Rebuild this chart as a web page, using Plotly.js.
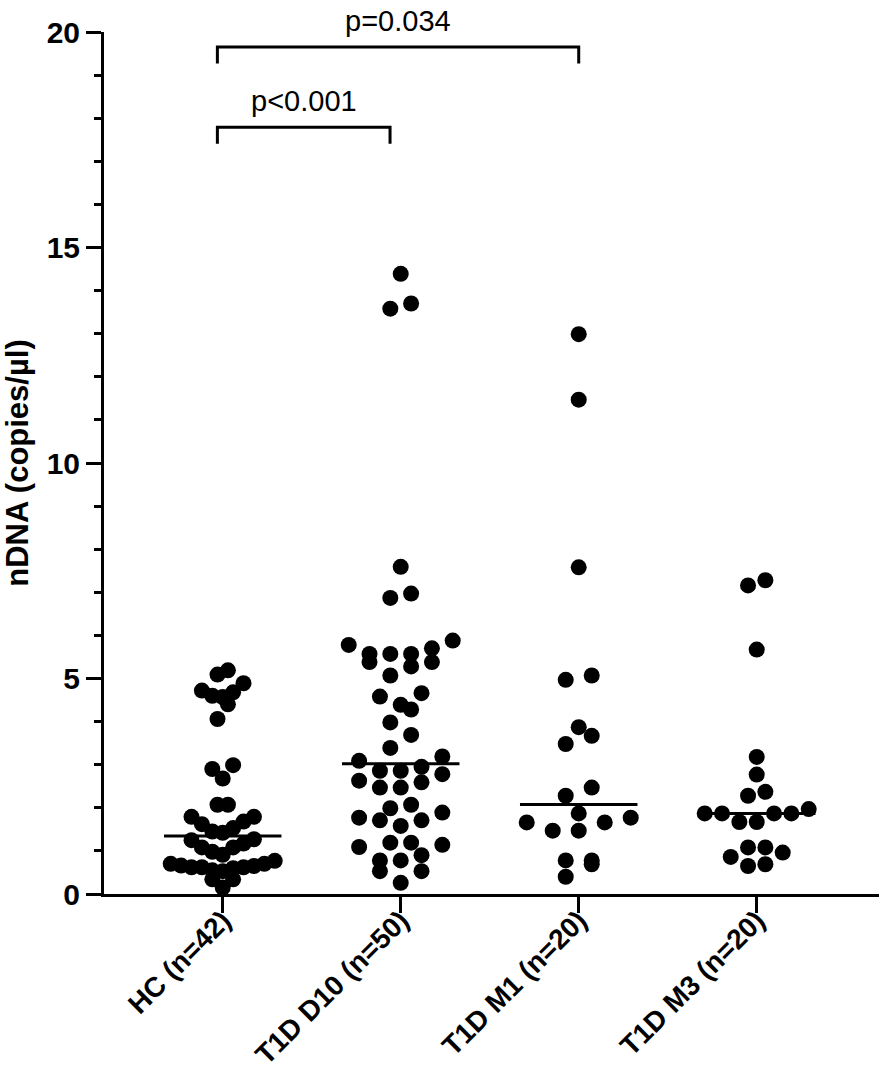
<!DOCTYPE html>
<html><head><meta charset="utf-8">
<script src="https://cdn.plot.ly/plotly-3.0.1.min.js"></script>
<style>html,body{margin:0;padding:0;background:#fff}</style>
</head><body>
<div id="chart" style="width:886px;height:1084px"></div>
<script>
// ---- data ----
const categories = ['HC (n=42)', 'T1D D10 (n=50)', 'T1D M1 (n=20)', 'T1D M3 (n=20)'];
const hcValues = [0.15, 0.34, 0.34, 0.53, 0.55, 0.60, 0.62, 0.62, 0.62, 0.65, 0.66, 0.70, 0.70,
  0.77, 0.91, 0.98, 1.08, 1.08, 1.17, 1.25, 1.27, 1.42, 1.45, 1.53, 1.62, 1.68, 1.79, 1.79,
  2.07, 2.07, 2.68, 2.90, 2.99, 4.06, 4.40, 4.57, 4.60, 4.68, 4.72, 4.89, 5.09, 5.19];
const d10Values = [0.26, 0.53, 0.53, 0.78, 0.78, 0.90, 1.09, 1.14, 1.19, 1.19, 1.58, 1.71, 1.71,
  1.77, 1.89, 1.99, 2.07, 2.47, 2.47, 2.59, 2.63, 2.78, 2.86, 2.86, 2.95, 3.09, 3.19, 3.39,
  3.69, 3.98, 4.28, 4.39, 4.58, 4.66, 5.07, 5.28, 5.38, 5.38, 5.57, 5.57, 5.57, 5.70, 5.78,
  5.88, 6.87, 6.97, 7.59, 13.58, 13.70, 14.39];
const m1Values = [0.40, 0.69, 0.78, 0.78, 1.47, 1.47, 1.66, 1.66, 1.77, 1.87, 2.28, 2.47, 3.48,
  3.67, 3.87, 4.97, 5.07, 7.58, 11.47, 12.99];
const m3Values = [0.65, 0.69, 0.86, 0.96, 1.08, 1.08, 1.67, 1.67, 1.87, 1.87, 1.87, 1.87, 1.97,
  2.28, 2.37, 2.77, 3.18, 5.67, 7.16, 7.28];
const groupValues = [hcValues, d10Values, m1Values, m3Values];
const compareGroups = [[0, 1], [0, 2]];
const compareLabels = ['p<0.001', 'p=0.034'];

// ---- layout constants ----
const W = 886, H = 1084;
const M = {l: 104, r: 7, t: 32, b: 190};
const X_RANGE = [-0.667, 3.687];
const Y_RANGE = [0, 20];
const PX_PER_CAT = (W - M.l - M.r) / (X_RANGE[1] - X_RANGE[0]);
const PX_PER_UNIT = (H - M.t - M.b) / (Y_RANGE[1] - Y_RANGE[0]);
const MARKER = 16;
const BIN_H = MARKER / PX_PER_UNIT;
const SWARM_WIDTH_PX = 104;
const MAX_SPACING_PX = 26;
const FONT = 'Liberation Sans, Arial, Helvetica, sans-serif';

function swarm(values, center) {
  const sorted = values.slice().sort((a, b) => a - b);
  const bins = [];
  let cur = [], start = null;
  sorted.forEach(v => {
    if (start === null || v >= start + BIN_H - 1e-9) {
      if (cur.length) bins.push(cur);
      cur = [v]; start = v;
    } else cur.push(v);
  });
  if (cur.length) bins.push(cur);
  const maxN = Math.max(...bins.map(b => b.length));
  const sp = maxN > 1 ? Math.min(MAX_SPACING_PX, SWARM_WIDTH_PX / (maxN - 1)) : 0;
  const xs = [], ys = [];
  bins.forEach(b => {
    const n = b.length;
    const slots = [];
    for (let k = 0; k < n; k++) slots.push(k - (n - 1) / 2);
    slots.sort((a, c) => Math.abs(a) - Math.abs(c) || a - c);
    b.forEach((v, j) => { xs.push(center + slots[j] * sp / PX_PER_CAT); ys.push(v); });
  });
  return {xs, ys};
}
function median(arr) {
  const s = arr.slice().sort((a, b) => a - b);
  const n = s.length;
  return n % 2 ? s[(n - 1) / 2] : (s[n / 2 - 1] + s[n / 2]) / 2;
}

const traces = [];
groupValues.forEach((vals, i) => {
  const sw = swarm(vals, i);
  traces.push({
    type: 'scatter', mode: 'markers', x: sw.xs, y: sw.ys,
    marker: {size: MARKER, color: '#000', line: {width: 0}},
    cliponaxis: false, hoverinfo: 'y', showlegend: false
  });
  const med = median(vals);
  traces.push({
    type: 'scatter', mode: 'lines', x: [i - 0.33, i + 0.33], y: [med, med],
    line: {color: '#000', width: 3}, cliponaxis: false, hoverinfo: 'skip', showlegend: false
  });
});

// brackets
const bracketTop = [17.79, 19.65];
const bracketLeg = 0.38;
const bracketInsetL = [-0.03, -0.03];
const bracketInsetR = [-0.06, 0.0];
const shapes = [], annotations = [];
const toPaperY = v => (v - Y_RANGE[0]) / (Y_RANGE[1] - Y_RANGE[0]);
compareGroups.forEach((g, k) => {
  const x0 = g[0] + bracketInsetL[k], x1 = g[1] + bracketInsetR[k];
  const yt = bracketTop[k], yl = yt - bracketLeg;
  shapes.push({
    type: 'path', xref: 'x', yref: 'y',
    path: `M ${x0},${yl} L ${x0},${yt} L ${x1},${yt} L ${x1},${yl}`,
    line: {color: '#000', width: 3}
  });
  annotations.push({
    x: (x0 + x1) / 2, y: toPaperY(yt + 0.6), xref: 'x', yref: 'paper', yanchor: 'middle',
    text: compareLabels[k], showarrow: false,
    font: {family: FONT, size: 29, color: '#000'}
  });
});

const layout = {
  width: W, height: H,
  margin: M,
  paper_bgcolor: '#fff', plot_bgcolor: '#fff',
  showlegend: false,
  xaxis: {
    range: X_RANGE, tickmode: 'array', tickvals: [0, 1, 2, 3], ticktext: categories,
    tickangle: -45, showline: true, linecolor: '#000', linewidth: 3,
    ticks: 'outside', ticklen: 16, tickwidth: 3, tickcolor: '#000',
    ticklabelstandoff: -20,
    showgrid: false, zeroline: false,
    tickfont: {family: FONT, size: 28, color: '#000', weight: 'bold'}
  },
  yaxis: {
    range: Y_RANGE, tick0: 0, dtick: 5,
    showline: true, linecolor: '#000', linewidth: 3,
    ticks: 'outside', ticklen: 15, tickwidth: 3, tickcolor: '#000',
    minor: {dtick: 1, ticks: 'outside', ticklen: 7, tickwidth: 3, tickcolor: '#000', showgrid: false},
    showgrid: false, zeroline: false,
    tickfont: {family: FONT, size: 30, color: '#000', weight: 'bold'},
    title: {text: 'nDNA (copies/µl)', standoff: 10,
            font: {family: FONT, size: 31, color: '#000', weight: 'bold'}}
  },
  shapes: shapes,
  annotations: annotations
};

Plotly.newPlot('chart', traces, layout, {displayModeBar: false, staticPlot: true});
</script>
</body></html>
